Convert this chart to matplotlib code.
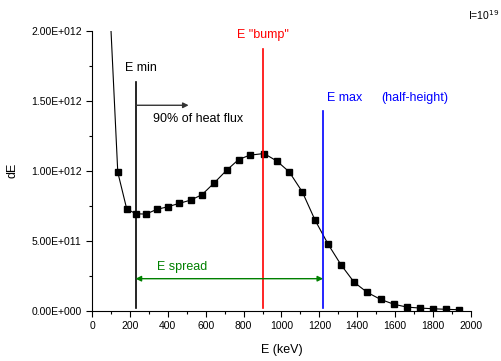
import numpy as np
import matplotlib.pyplot as plt
from matplotlib.ticker import MultipleLocator, FuncFormatter

plt.rcParams['font.family'] = ['Liberation Sans', 'DejaVu Sans']

# data
energy = [88, 136, 183, 231, 285, 341, 399, 459, 521, 580, 645, 711, 774, 832,
          908, 975, 1041, 1110, 1178, 1247, 1314, 1384, 1453, 1523, 1594, 1662,
          1731, 1800, 1870, 1938]
dE = [2.35, 0.99, 0.729, 0.693, 0.691, 0.724, 0.743, 0.767, 0.791, 0.829, 0.914,
      1.005, 1.081, 1.112, 1.124, 1.071, 0.993, 0.85, 0.646, 0.474, 0.329, 0.203,
      0.131, 0.081, 0.046, 0.026, 0.019, 0.014, 0.010, 0.007]
dE = np.array(dE) * 1e12

e_min = 230
e_bump = 900
e_max = 1220

fig = plt.figure(figsize=(5.02, 3.61), dpi=100)
ax = fig.add_axes([0.1833, 0.1393, 0.7547, 0.7748])

ax.plot(energy, dE, 'k-s', lw=0.8, ms=4.5)

ax.plot([e_min, e_min], [0.02e12, 1.636e12], color='black', lw=1.2)
ax.plot([e_bump, e_bump], [0.02e12, 1.874e12], color='red', lw=1.2)
ax.plot([e_max, e_max], [0.02e12, 1.426e12], color='blue', lw=1.2)

ax.annotate('', xy=(510, 1.469e12), xytext=(e_min, 1.469e12),
            arrowprops=dict(arrowstyle='-|>', color='#333333', lw=1.0,
                            mutation_scale=8, shrinkA=0, shrinkB=0))
ax.annotate('', xy=(e_max, 0.229e12), xytext=(e_min, 0.229e12),
            arrowprops=dict(arrowstyle='<|-|>', color='green', lw=1.0,
                            mutation_scale=8, shrinkA=0, shrinkB=0))

ax.text(174, 1.734e12, 'E min', fontsize=9, va='center')
ax.text(322, 1.37e12, '90% of heat flux', fontsize=9, va='center')
ax.text(e_bump, 1.97e12, 'E "bump"', fontsize=9, va='center', ha='center', color='red')
ax.text(1238, 1.52e12, 'E max', fontsize=9, va='center', color='blue')
ax.text(1529, 1.52e12, '(half-height)', fontsize=9, va='center', color='blue')
ax.text(343, 0.312e12, 'E spread', fontsize=9, va='center', color='green')

fig.text(0.932, 0.958, 'I=10$^{19}$', fontsize=7.5, va='center')

ax.set_xlim(0, 2000)
ax.set_ylim(0, 2e12)
ax.xaxis.set_major_locator(MultipleLocator(200))
ax.xaxis.set_minor_locator(MultipleLocator(100))
ax.yaxis.set_major_locator(MultipleLocator(0.5e12))
ax.yaxis.set_minor_locator(MultipleLocator(0.25e12))

def sci(v, pos):
    m, e = ('%.2E' % v).split('E')
    return '%sE%s%03d' % (m, e[0], abs(int(e)))
ax.yaxis.set_major_formatter(FuncFormatter(sci))

ax.spines['top'].set_visible(False)
ax.spines['right'].set_visible(False)
ax.tick_params(which='both', direction='out', labelsize=7.5, width=0.8)
ax.tick_params(which='major', length=4)
ax.tick_params(which='minor', length=2.5)
ax.set_xlabel('E (keV)', fontsize=9, labelpad=9)
ax.set_ylabel('dE', fontsize=9, labelpad=9)

fig.savefig('out.png', dpi=100)
